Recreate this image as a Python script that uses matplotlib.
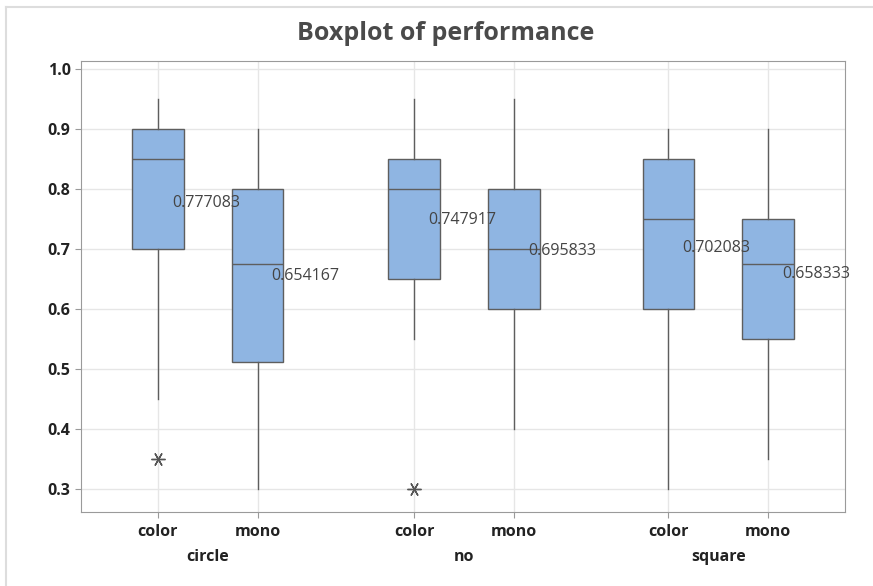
#!/usr/bin/env python3
"""
Boxplot of performance by group (circle / no / square) and mode (color / mono).
"""
import matplotlib
matplotlib.use("Agg")
import matplotlib.pyplot as plt
from matplotlib.lines import Line2D

plt.rcParams["font.family"] = ["Open Sans", "DejaVu Sans"]

groups = ["circle", "no", "square"]
modes = ["color", "mono"]

# summary stats, order: circle-color, circle-mono, no-color, ...
whisker_lo = [0.45, 0.30, 0.55, 0.40, 0.30, 0.35]
q1 = [0.70, 0.5125, 0.65, 0.60, 0.60, 0.55]
median = [0.85, 0.675, 0.80, 0.70, 0.75, 0.675]
q3 = [0.90, 0.80, 0.85, 0.80, 0.85, 0.75]
whisker_hi = [0.95, 0.90, 0.95, 0.95, 0.90, 0.90]
means = [0.777083, 0.654167, 0.747917, 0.695833, 0.702083, 0.658333]
outliers = [[0.35], [], [0.30], [], [], []]

y_ticks = [0.3, 0.4, 0.5, 0.6, 0.7, 0.8, 0.9, 1.0]

positions = [0, 1, 2.57, 3.57, 5.12, 6.12]

stats = []
for i in range(len(median)):
    stats.append(dict(whislo=whisker_lo[i], q1=q1[i], med=median[i], q3=q3[i],
                      whishi=whisker_hi[i], mean=means[i], fliers=outliers[i]))

fig = plt.figure(figsize=(8.73, 5.86), dpi=100)
ax = fig.add_axes([81 / 873, 1 - 512 / 586, 764 / 873, 451 / 586])

edge = "#5e5e5e"
ax.bxp(stats, positions=positions, widths=0.52, patch_artist=True,
       showcaps=False, showmeans=False,
       boxprops=dict(facecolor="#8fb5e2", edgecolor=edge, linewidth=1.0),
       medianprops=dict(color=edge, linewidth=1.0),
       whiskerprops=dict(color=edge, linewidth=1.0),
       flierprops=dict(marker=(6, 2, 90), markersize=10, markeredgecolor="#555555",
                       markeredgewidth=1.0, linestyle="none"),
       zorder=3)

for p, m in zip(positions, means):
    ax.text(p + 0.14, m, f"{m:g}", ha="left", va="center", fontsize=11.5,
            color="#444444", zorder=4)

ax.set_xlim(-0.77, 6.89)
ax.set_ylim(0.2617, 1.0133)
ax.set_yticks(y_ticks)
ax.set_yticklabels([f"{v:.1f}" for v in y_ticks], fontsize=11.5,
                   fontweight="bold", color="#222222")
ax.set_xticks(positions)
ax.set_xticklabels(modes * len(groups), fontsize=11.5, fontweight="bold",
                   color="#222222")
ax.tick_params(axis="both", color="#9a9a9a", length=4)
ax.tick_params(axis="x", pad=5)

ax.grid(True, color="#e6e6e6", linewidth=1.0, zorder=0)
ax.set_axisbelow(True)
for s in ax.spines.values():
    s.set_color("#9a9a9a")

for gi, g in enumerate(groups):
    cx = (positions[2 * gi] + positions[2 * gi + 1]) / 2
    ax.text(cx, -0.1, g, transform=ax.get_xaxis_transform(), ha="center",
            va="center", fontsize=11.5, fontweight="bold", color="#222222")

fig.text(446 / 873, 1 - 34 / 586, "Boxplot of performance", ha="center",
         va="center", fontsize=18, fontweight="bold", color="#4a4a4a")

# light frame around the figure
fig.add_artist(Line2D([6 / 873, 1], [1 - 7 / 586, 1 - 7 / 586],
                      transform=fig.transFigure, color="#dddddd", lw=1.5))
fig.add_artist(Line2D([6 / 873, 6 / 873], [0, 1 - 7 / 586],
                      transform=fig.transFigure, color="#dddddd", lw=1.5))

fig.savefig("out.png", dpi=100)
